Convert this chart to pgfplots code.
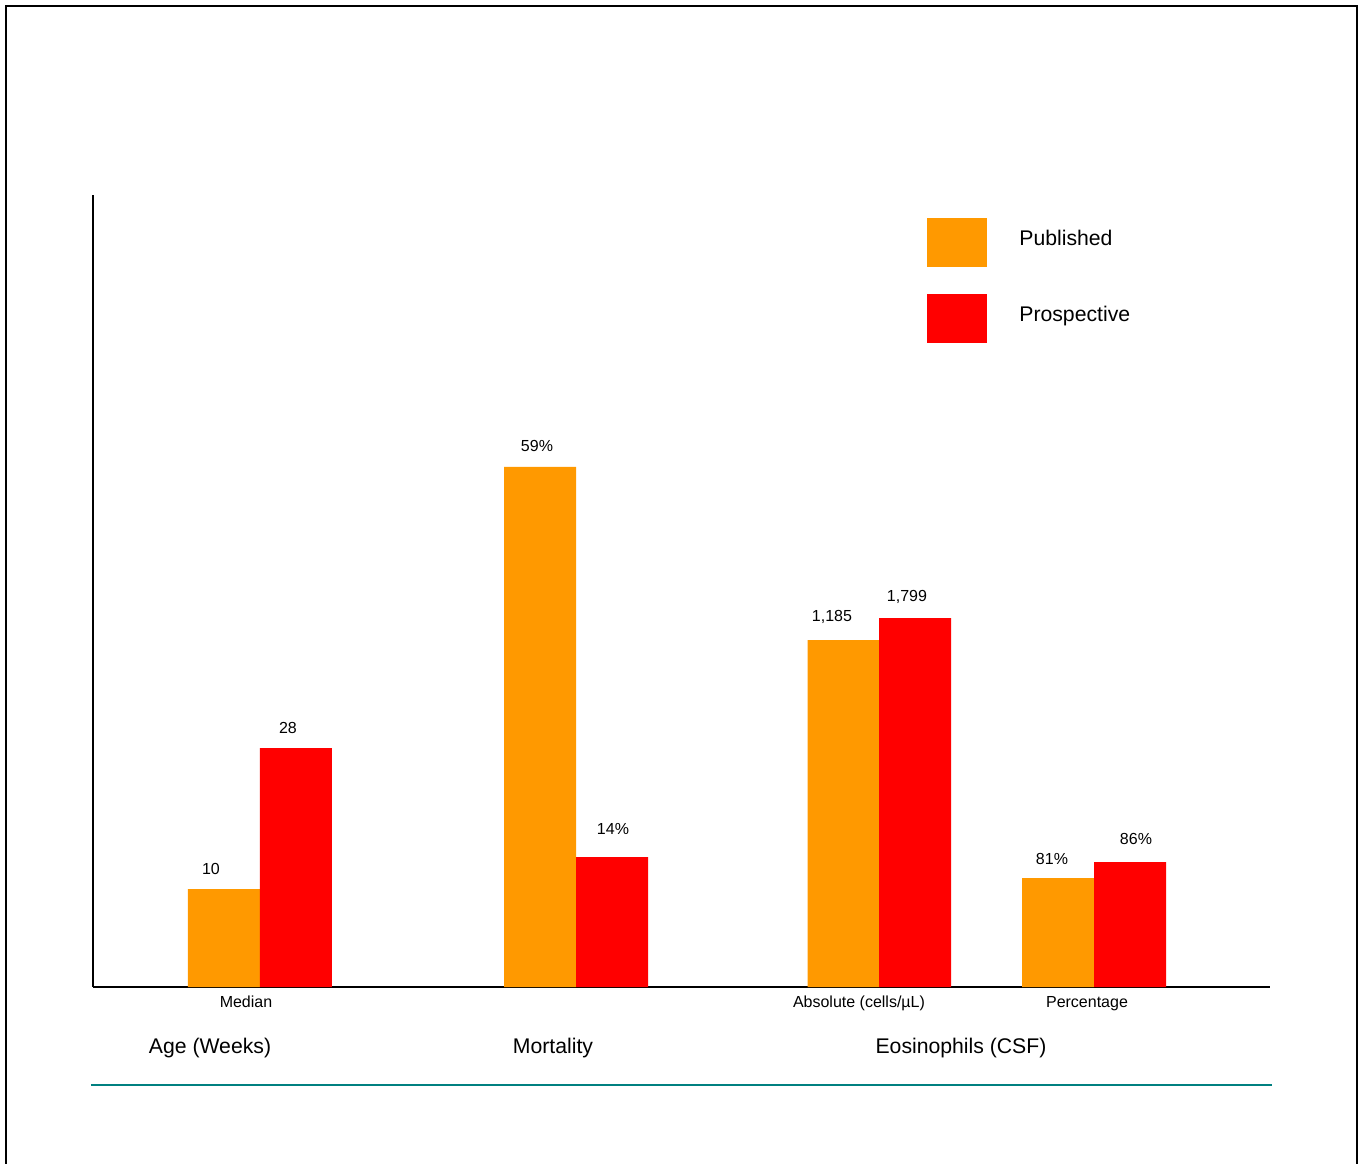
\documentclass[border=0pt]{standalone}
\usepackage{fontspec}
\setmainfont{Liberation Sans}
\usepackage{pgfplots}
\usepackage{pgfplotstable}
\pgfplotsset{compat=1.18}
\definecolor{pub}{RGB}{255,153,0}
\definecolor{pro}{RGB}{255,0,0}
\definecolor{tealline}{RGB}{0,128,128}
\pgfplotstableread{
x y lab dx dy
224 98 10 -6.5 10
540 520 59\% -1.5 10.5
843.5 347 1,185 -5.75 11.5
1058 109 81\% -3 9.5
}\published
\pgfplotstableread{
x y lab dx dy
296 239 28 -4 10
612 130 14\% 0.5 14
915 369 1,799 -4 10.5
1130 125 86\% 3 11.5
}\prospective
\begin{document}
\begin{tikzpicture}
\begin{axis}[
  scale only axis,
  width=588.5pt, height=396pt,
  xmin=93, xmax=1270, ymin=0, ymax=792,
  axis x line=bottom, axis y line=left,
  axis line style={-, line width=1pt, black},
  ytick=\empty,
  xtick={246,859,1087},
  xticklabels={Median, Absolute (cells/µL), Percentage},
  major tick length=0pt,
  xticklabel style={font=\fontsize{8}{9.6}\selectfont, yshift=-1pt},
  ybar, bar shift=0pt, bar width=72,
  clip=false,
  nodes near coords,
  point meta=explicit symbolic,
  visualization depends on={\thisrow{dx} \as \dx},
  visualization depends on={\thisrow{dy} \as \dy},
  nodes near coords style={font=\fontsize{8}{9.6}\selectfont, anchor=center, xshift=\dx pt, yshift=\dy pt, text=black},
  legend style={draw=none, at={(axis cs:927,769)}, anchor=north west,
    font=\fontsize{10.6}{12.7}\selectfont, row sep=13.5pt, column sep=16pt,
    nodes={inner sep=0pt}, inner sep=0pt},
  legend cell align=left,
  legend image code/.code={\fill[#1] (0pt,-14.25pt) rectangle (30pt,10.25pt);},
]
\addplot[draw=none, fill=pub] table[x=x, y=y, meta=lab] {\published};
\addlegendentry{Published}
\addplot[draw=none, fill=pro] table[x=x, y=y, meta=lab] {\prospective};
\addlegendentry{Prospective}
\node[font=\fontsize{10.6}{12.7}\selectfont] at (axis cs:210,-61.5) {Age (Weeks)};
\node[font=\fontsize{10.6}{12.7}\selectfont] at (axis cs:553,-61.5) {Mortality};
\node[font=\fontsize{10.6}{12.7}\selectfont] at (axis cs:961,-61.5) {Eosinophils (CSF)};
\draw[tealline, line width=1pt] (axis cs:91,-98) -- (axis cs:1272,-98);
\draw[black, line width=1.25pt] (axis cs:6,-185) -- (axis cs:6,981) -- (axis cs:1357,981) -- (axis cs:1357,-185);
\coordinate (bl) at (axis cs:0,-176);
\coordinate (tr) at (axis cs:1365,987);
\end{axis}
\pgfresetboundingbox
\path[use as bounding box] (bl) rectangle (tr);
\end{tikzpicture}
\end{document}
